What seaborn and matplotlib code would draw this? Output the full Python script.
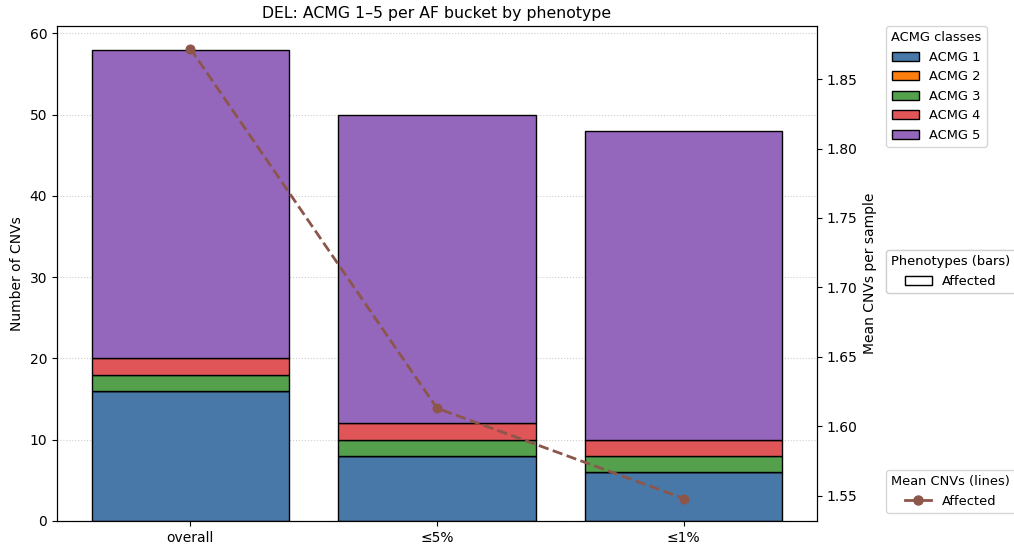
import matplotlib
matplotlib.use("Agg")
import matplotlib.pyplot as plt
from matplotlib.patches import Patch
from matplotlib.lines import Line2D
import numpy as np
import seaborn as sns

# AF buckets and ACMG class counts (deletions, affected samples)
buckets = ["overall", "≤5%", "≤1%"]
acmg_classes = ["ACMG 1", "ACMG 2", "ACMG 3", "ACMG 4", "ACMG 5"]
acmg1 = [16, 8, 6]
acmg2 = [0, 0, 0]
acmg3 = [2, 2, 2]
acmg4 = [2, 2, 2]
acmg5 = [38, 38, 38]
mean_cnvs_affected = [1.872, 1.613, 1.548]

class_colors = ["#4878a8", "#ff7f0e", "#55a04d", "#e05557", "#9467bd"]
line_color = "#8c564b"

fig = plt.figure(figsize=(10.14, 5.47), dpi=100)
ax = fig.add_axes([57 / 1014, 26 / 547, 760 / 1014, 495 / 547])

pos = np.arange(len(buckets))
bottom = np.zeros(len(buckets))
for name, vals, col in zip(acmg_classes, [acmg1, acmg2, acmg3, acmg4, acmg5], class_colors):
    sns.barplot(x=pos, y=vals, bottom=bottom, color=col, edgecolor="black",
                linewidth=1.0, width=0.8, native_scale=True, saturation=1,
                ax=ax, legend=False, zorder=2)
    bottom = bottom + np.array(vals)

ax.set_xticks(pos)
ax.set_xticklabels(buckets)
ax.set_xlim(-0.54, 2.54)
ax.set_ylim(0, 60.9)
ax.set_xlabel("")
ax.set_ylabel("Number of CNVs")
ax.yaxis.grid(True, linestyle=":", color="#c8c8c8", linewidth=0.8, alpha=0.9)
ax.set_axisbelow(True)
ax.set_title("DEL: ACMG 1–5 per AF bucket by phenotype", fontsize=11.3)

ax2 = ax.twinx()
sns.lineplot(x=pos, y=mean_cnvs_affected, ax=ax2, color=line_color,
             linestyle="--", linewidth=2, marker="o", markersize=6.5,
             markeredgecolor=line_color, legend=False)
ax2.set_ylabel("Mean CNVs per sample")

leg_kw = dict(fontsize=9.4, title_fontsize=9.4, borderaxespad=0)

class_handles = [Patch(facecolor=c, edgecolor="black", label=n)
                 for n, c in zip(acmg_classes, class_colors)]
leg1 = ax.legend(handles=class_handles, title="ACMG classes", loc="upper left",
                 bbox_to_anchor=(1.091, 1.0), **leg_kw)
ax.add_artist(leg1)

pheno_handles = [Patch(facecolor="white", edgecolor="black", label="Affected")]
leg2 = ax.legend(handles=pheno_handles, title="Phenotypes (bars)", loc="center left",
                 bbox_to_anchor=(1.091, 0.504), **leg_kw)
ax.add_artist(leg2)

line_handles = [Line2D([0], [0], color=line_color, linewidth=2, marker="o",
                       markersize=6.5, label="Affected")]
ax2.legend(handles=line_handles, title="Mean CNVs (lines)", loc="lower left",
           bbox_to_anchor=(1.091, 0.016), **leg_kw)

fig.savefig("out.png", dpi=100)
